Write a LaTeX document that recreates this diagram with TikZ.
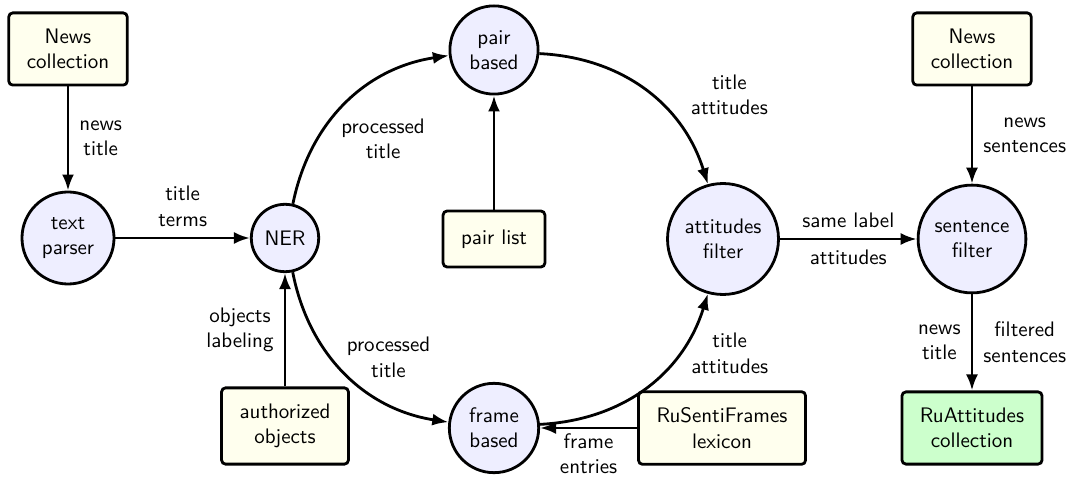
\documentclass[tikz,border=0pt]{standalone}
\usepackage{xcolor}
\usepackage{tikz}
\usetikzlibrary{arrows.meta}
\definecolor{StageFill}{HTML}{EEEEFF}
\definecolor{SourceFill}{HTML}{FFFFEE}
\definecolor{ResultFill}{HTML}{CCFFCC}

\begin{document}
\begin{tikzpicture}[x=0.5pt, y=-0.5pt,
        font=\sffamily\fontsize{10.5pt}{12.7pt}\selectfont,
        stage/.style={circle, draw, line width=1.4pt, fill=StageFill, align=center, inner sep=4.5pt},
        source/.style={rectangle, rounded corners=2pt, draw, line width=1.4pt, fill=SourceFill,
            align=center, inner xsep=9pt, inner ysep=8pt, minimum height=28pt},
        result/.style={source, fill=ResultFill},
        flow/.style={-{Latex[length=8pt,width=6pt]}, line width=1.4pt},
        tag/.style={align=center, inner sep=5pt}]
        \useasboundingbox (0,0) rectangle (1070,480);

        \node[source] (newsL) at (68,49) {News\\collection};
        \node[stage] (parser) at (68,238) {text\\parser};
        \node[stage] (ner) at (285,238) {NER};
        \node[source] (authors) at (285,426) {authorized\\objects};
        \node[stage] (pair) at (494,50) {pair\\based};
        \node[source] (pairlist) at (494,239) {pair list};
        \node[stage] (frame) at (494,428) {frame\\based};
        \node[stage] (attfilter) at (723,239) {attitudes\\filter};
        \node[source] (lexicon) at (722,428) {RuSentiFrames\\lexicon};
        \node[source] (newsR) at (972,49) {News\\collection};
        \node[stage] (sentfilter) at (972,239) {sentence\\filter};
        \node[result] (ruatt) at (972,428) {RuAttitudes\\collection};

        \draw[flow] (newsL) -- node[tag, right] {news\\title} (parser);
        \draw[flow] (parser) -- node[tag, above] {title\\terms} (ner);
        \draw[flow] (authors) -- node[tag, left] {objects\\labeling} (ner);
        \draw[flow] (ner) to[bend left=35] node[tag, below right, xshift=-8pt, yshift=-2pt] {processed\\title} (pair);
        \draw[flow] (ner) to[bend right=35] node[tag, right, xshift=-5pt, yshift=8pt] {processed\\title} (frame);
        \draw[flow] (pairlist) -- (pair);
        \draw[flow] (pair) to[bend left=35] node[tag, right=17pt, yshift=-2pt] {title\\attitudes} (attfilter);
        \draw[flow] (frame) to[bend right=35] node[tag, right=17pt, yshift=17pt] {title\\attitudes} (attfilter);
        \draw[flow] (lexicon) -- node[tag, below, inner sep=2pt] {frame\\entries} (frame);
        \draw[flow] (attfilter) -- node[tag, above] {same label} node[tag, below] {attitudes} (sentfilter);
        \draw[flow] (newsR) -- node[tag, right] {news\\sentences} (sentfilter);
        \draw[flow] (sentfilter) -- node[tag, left] {news\\title} node[tag, right] {filtered\\sentences} (ruatt);
    \end{tikzpicture}
\end{document}
